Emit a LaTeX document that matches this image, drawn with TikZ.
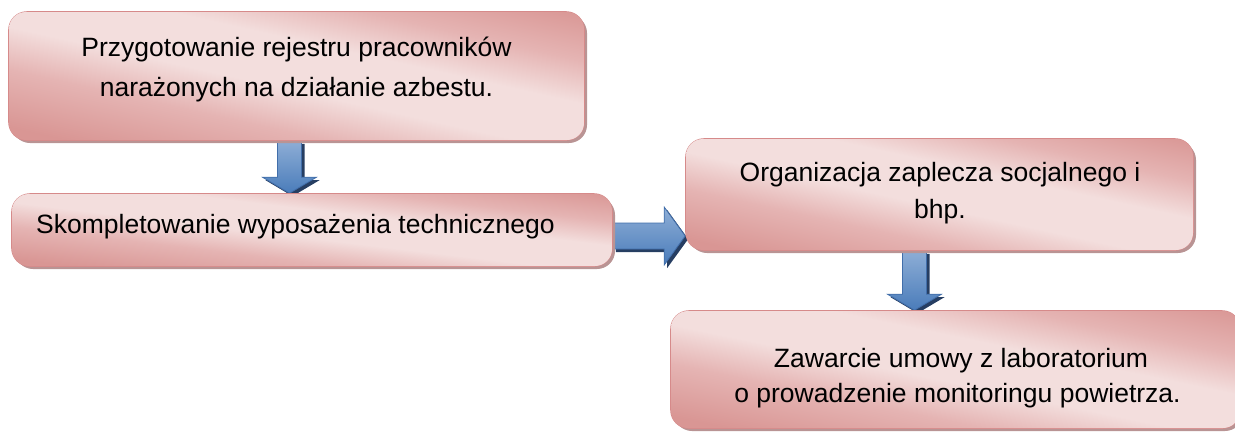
\documentclass[tikz,border=0pt]{standalone}
\usepackage{fontspec}
\setmainfont{Liberation Sans}
\usetikzlibrary{calc,shadows}
\pgfdeclarelayer{background}
\pgfsetlayers{background,main}
\definecolor{pinkdark}{RGB}{217,150,148}
\definecolor{pinkmid}{RGB}{229,180,179}
\definecolor{pinklight}{RGB}{243,222,221}
\definecolor{pinkborder}{RGB}{214,138,138}
\definecolor{pinkshadow}{RGB}{185,148,148}
\definecolor{arrowblue}{RGB}{74,124,186}
\definecolor{arrowlight}{RGB}{142,174,214}
\definecolor{arrowborder}{RGB}{65,110,170}
\definecolor{arrowshadow}{RGB}{38,62,98}
\pgfdeclareverticalshading{pinkband}{100bp}{color(0bp)=(pinkdark); color(18bp)=(pinkdark); color(34bp)=(pinkmid); color(46bp)=(pinklight); color(60bp)=(pinklight); color(72bp)=(pinkmid); color(86bp)=(pinkdark); color(100bp)=(pinkdark)}
\newcommand\pinkshade[3]{%
  \begin{scope}
    \clip[rounded corners=17pt] ($(#1.south west)+(0.8pt,0.8pt)$) rectangle ($(#1.north east)-(0.8pt,0.8pt)$);
    \shade[shading=pinkband, shading angle=-45,
      transform canvas={shift={(#1.center)}, xscale=#2/200, yscale=#3/200}]
      (-100pt,-100pt) rectangle (100pt,100pt);
  \end{scope}}
\begin{document}
\begin{tikzpicture}[x=1pt,y=-1pt,
  box/.style 2 args={draw=pinkborder, line width=1.6pt, rounded corners=18pt,
    minimum width=#1pt, minimum height=#2pt, inner sep=0pt, fill=pinklight,
    general shadow={fill=pinkshadow, shadow xshift=3pt, shadow yshift=-3pt}},
  txt/.style={font=\fontsize{26.5}{32}\selectfont, inner sep=0pt, text=black},
  blockarrow/.style={draw=arrowborder, line width=0.8pt,
    top color=arrowlight, bottom color=arrowblue,
    general shadow={fill=arrowshadow, shadow xshift=3pt, shadow yshift=-3pt}},
  blockdown/.style={blockarrow, to path={let \p1=(\tikztostart), \p2=(\tikztotarget) in
    (\x1-12pt,\y1) -- (\x1-12pt,\y2+16pt) -- (\x1-27pt,\y2+16pt) -- (\x1,\y2)
    -- (\x1+27pt,\y2+16pt) -- (\x1+12pt,\y2+16pt) -- (\x1+12pt,\y1) -- cycle}},
  blockright/.style={blockarrow, to path={let \p1=(\tikztostart), \p2=(\tikztotarget) in
    (\x1,\y1+13pt) -- (\x2-21pt,\y1+13pt) -- (\x2-21pt,\y1+29pt) -- (\x2,\y1)
    -- (\x2-21pt,\y1-29pt) -- (\x2-21pt,\y1-13pt) -- (\x1,\y1-13pt) -- cycle}}
]
\useasboundingbox (0,0) rectangle (1235,432);

% boxes
\node[box={575}{128}] (b1) at (296.5,76) {};
\pinkshade{b1}{575}{128}
\node[box={600}{72}] (b2) at (312,230) {};
\pinkshade{b2}{600}{72}
\node[box={507}{111}] (b3) at (939.5,194.5) {};
\pinkshade{b3}{507}{111}
\node[box={569}{117}] (b4) at (955.5,369.5) {};
\pinkshade{b4}{569}{117}

% texts
\node[txt, anchor=base] (t1a) at (296.5,56) {Przygotowanie rejestru pracowników};
\node[txt, anchor=base] (t1b) at (296.5,96) {narażonych na działanie azbestu.};
\node[txt, anchor=base west] (t2) at (36,233) {Skompletowanie wyposażenia technicznego};
\node[txt, anchor=base] (t3a) at (940,181) {Organizacja zaplecza socjalnego i};
\node[txt, anchor=base] (t3b) at (940,218) {bhp.};
\node[txt, anchor=base] (t4a) at (961,367) {Zawarcie umowy z laboratorium};
\node[txt, anchor=base] (t4b) at (957.5,402) {o prowadzenie monitoringu powietrza.};

% arrows
\coordinate (ax1) at (289.5,0);
\coordinate (ay2) at (0,236);
\coordinate (ax3) at (914.5,0);
\begin{pgfonlayer}{background}
\draw[blockdown] (b1.south -| ax1) to (b2.north -| ax1);
\draw[blockright] (b2.east |- ay2) to (b3.west |- ay2);
\draw[blockdown] (b3.south -| ax3) to (b4.north -| ax3);
\end{pgfonlayer}
\end{tikzpicture}
\end{document}
